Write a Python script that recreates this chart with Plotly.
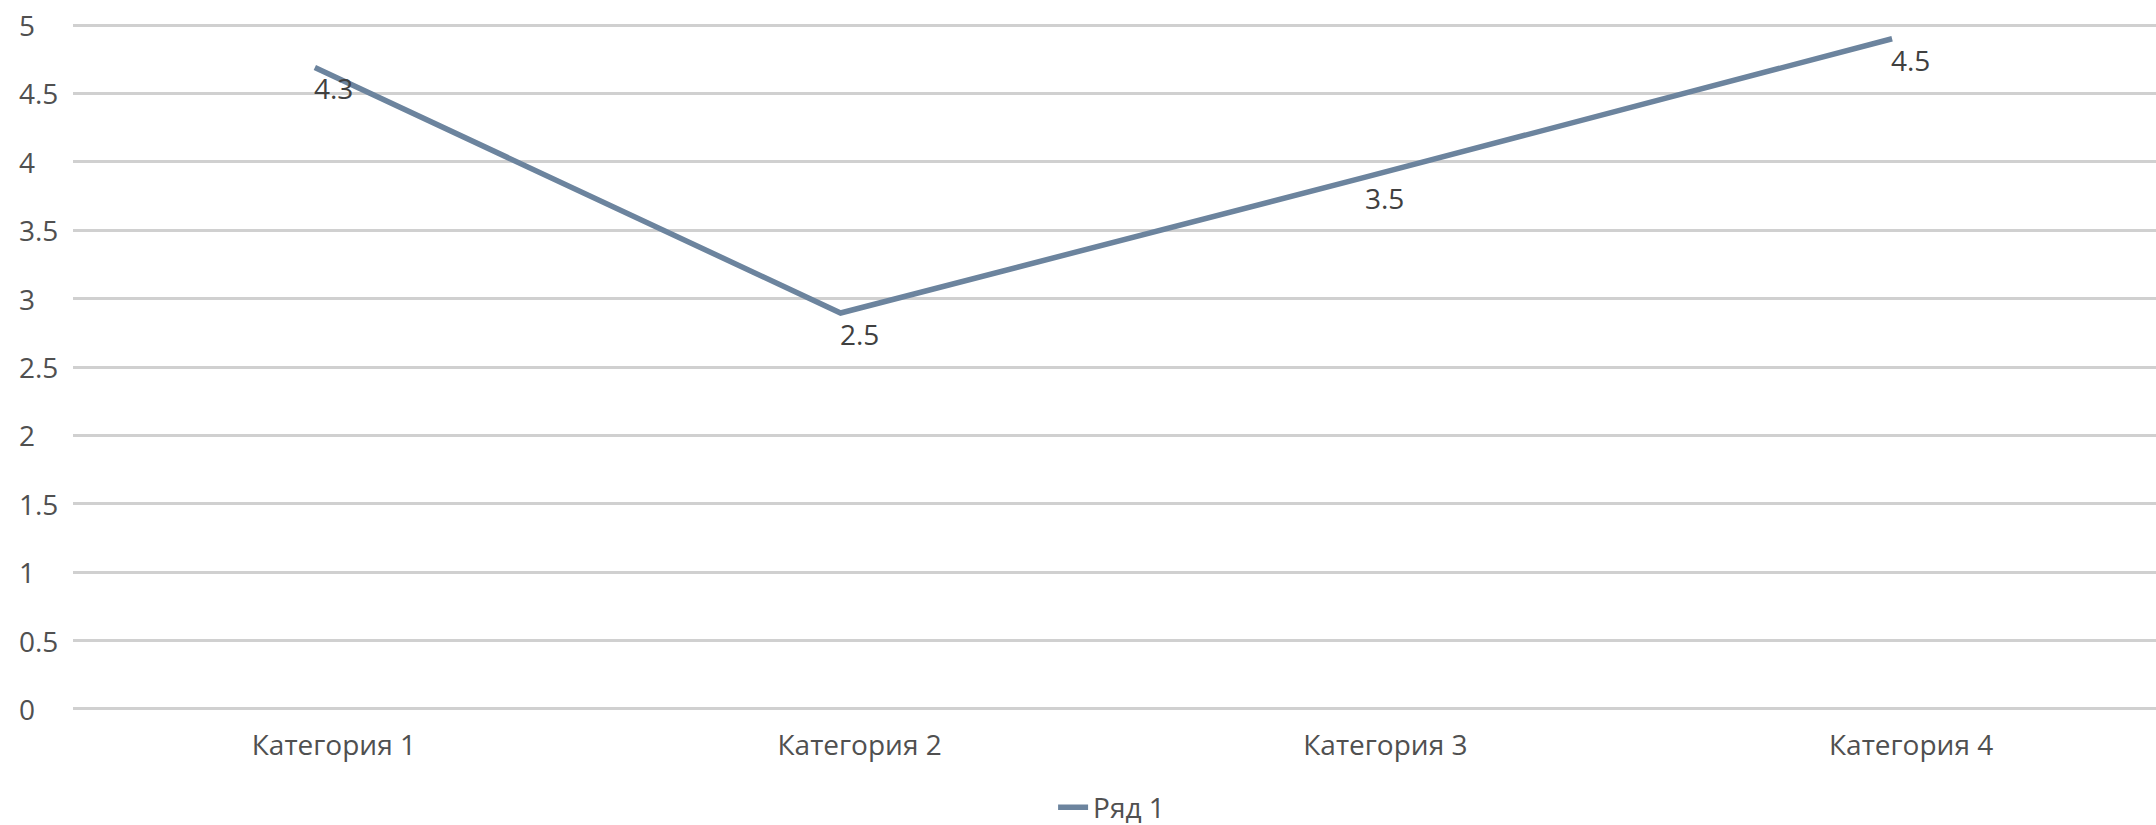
import plotly.graph_objects as go

categories = ["Категория 1", "Категория 2", "Категория 3", "Категория 4"]
series_name = "Ряд 1"
values = [4.69, 2.895, 3.89, 4.90]
data_labels = ["4.3", "2.5", "3.5", "4.5"]
y_ticks = [0, 0.5, 1, 1.5, 2, 2.5, 3, 3.5, 4, 4.5, 5]
y_tick_labels = ["0", "0.5", "1", "1.5", "2", "2.5", "3", "3.5", "4", "4.5", "5"]

FONT = "Open Sans"
TXT = "#505050"
FS = 28

fig = go.Figure()
fig.add_trace(go.Scatter(
    x=list(range(len(categories))), y=values, name=series_name,
    mode="lines", line=dict(color="#6c849e", width=5.5),
))

annotations = []
for v, t in zip(y_ticks, y_tick_labels):
    annotations.append(dict(x=0, xref="paper", xshift=-56, y=v, yref="y",
                            text=t, showarrow=False, xanchor="left",
                            font=dict(family=FONT, size=FS, color=TXT)))
for i, (v, t) in enumerate(zip(values, data_labels)):
    annotations.append(dict(x=i, y=v, xref="x", yref="y", text=t, showarrow=False,
                            xanchor="left", yanchor="top", xshift=-3, yshift=0,
                            font=dict(family=FONT, size=FS, color="#404040")))

fig.update_layout(
    width=2156, height=825,
    margin=dict(l=73, r=0, t=24, b=115, autoexpand=False),
    paper_bgcolor="white", plot_bgcolor="white",
    showlegend=True,
    legend=dict(orientation="h", x=0.4986, xanchor="center",
                yref="container", y=0.021, yanchor="middle",
                font=dict(family=FONT, size=FS, color=TXT), itemwidth=30),
    xaxis=dict(range=[-0.46, 3.502], tickmode="array", automargin=False,
               tickvals=list(range(len(categories))), ticktext=categories,
               showgrid=False, zeroline=False, showline=False, ticks="",
               ticklabelstandoff=16, ticklabelshift=19,
               tickfont=dict(family=FONT, size=FS, color=TXT)),
    yaxis=dict(range=[-0.008, 5.008], tickvals=y_ticks, showticklabels=False,
               automargin=False,
               showgrid=True, gridcolor="#d0d0d0", gridwidth=3,
               zeroline=False, showline=False, ticks=""),
    annotations=annotations,
)

fig.write_html("out.html", config={"displayModeBar": False},
               post_script="document.body.style.margin='0';document.body.style.overflow='hidden';document.documentElement.style.overflow='hidden';")
